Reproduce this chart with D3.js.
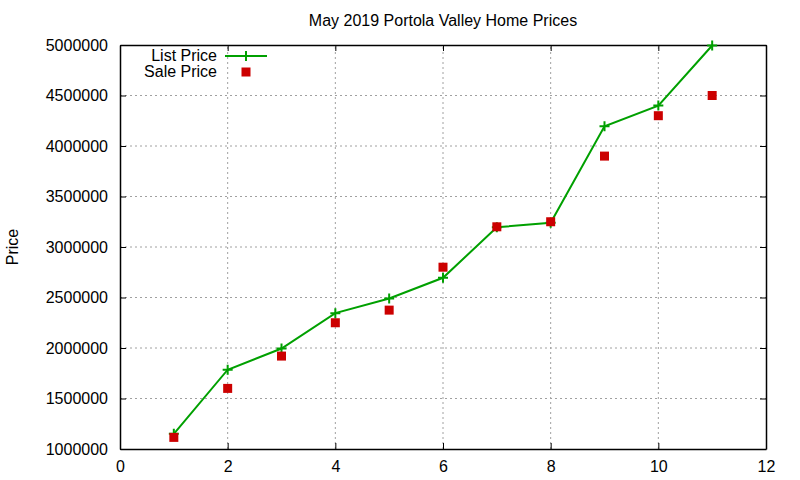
<!DOCTYPE html>
<html>
<head>
<meta charset="utf-8">
<script src="https://cdn.jsdelivr.net/npm/d3@7"></script>
<style>
  body { margin: 0; background: #fff; }
  text { font-family: "Liberation Sans", Arial, sans-serif; fill: #000; }
</style>
</head>
<body>
<div id="chart"></div>
<script>
const houses = [1, 2, 3, 4, 5, 6, 7, 8, 9, 10, 11];
const listPrice = [1150000, 1785000, 1995000, 2345000, 2490000, 2695000, 3195000, 3240000, 4195000, 4400000, 4995000];
const salePrice = [1115000, 1600000, 1920000, 2250000, 2375000, 2800000, 3200000, 3250000, 3900000, 4300000, 4500000];
const xTicks = [0, 2, 4, 6, 8, 10, 12];
const yTicks = [1000000, 1500000, 2000000, 2500000, 3000000, 3500000, 4000000, 4500000, 5000000];

const width = 800;
const height = 480;
const margin = { top: 45, right: 34, bottom: 31, left: 120 };
const fontSize = '16px';

const svg = d3.select('#chart')
    .append('svg')
    .attr('width', width)
    .attr('height', height);

const x = d3.scaleLinear()
    .domain([0, 12])
    .range([margin.left, width - margin.right]);

const y = d3.scaleLinear()
    .domain([1000000, 5000000])
    .range([height - margin.bottom, margin.top]);

// grid
svg.append('g')
    .selectAll('line')
    .data(xTicks.slice(1, -1))
    .join('line')
    .attr('x1', d => x(d)).attr('x2', d => x(d))
    .attr('y1', y.range()[0]).attr('y2', y.range()[1])
    .attr('stroke', '#a0a0a0').attr('stroke-dasharray', '2,3');

svg.append('g')
    .selectAll('line')
    .data(yTicks.slice(1, -1))
    .join('line')
    .attr('x1', x.range()[0]).attr('x2', x.range()[1])
    .attr('y1', d => y(d)).attr('y2', d => y(d))
    .attr('stroke', '#a0a0a0').attr('stroke-dasharray', '2,3');

// axes, ticks pointing inward, mirrored
const fmt = d3.format('d');
svg.append('g')
    .attr('transform', `translate(0, ${y.range()[0]})`)
    .call(d3.axisBottom(x).tickValues(xTicks).tickFormat(fmt).tickSizeInner(-6).tickSizeOuter(0).tickPadding(12));
svg.append('g')
    .attr('transform', `translate(0, ${y.range()[1]})`)
    .call(d3.axisTop(x).tickValues(xTicks).tickFormat('').tickSizeInner(-6).tickSizeOuter(0));
svg.append('g')
    .attr('transform', `translate(${x.range()[0]}, 0)`)
    .call(d3.axisLeft(y).tickValues(yTicks).tickFormat(fmt).tickSizeInner(-6).tickSizeOuter(0).tickPadding(12));
svg.append('g')
    .attr('transform', `translate(${x.range()[1]}, 0)`)
    .call(d3.axisRight(y).tickValues(yTicks).tickFormat('').tickSizeInner(-6).tickSizeOuter(0));

svg.selectAll('.domain').attr('stroke', '#000').attr('stroke-width', 1.5);
svg.selectAll('.tick line').attr('stroke', '#000');
svg.selectAll('.tick text').style('font-size', fontSize).attr('fill', '#000');

// list price line
const line = d3.line()
    .x((d, i) => x(houses[i]))
    .y(d => y(d));

svg.append('path')
    .datum(listPrice)
    .attr('d', line)
    .attr('fill', 'none')
    .attr('stroke', '#00a000')
    .attr('stroke-width', 2);

const plusPath = s => `M${-s},0H${s}M0,${-s}V${s}`;

svg.append('g')
    .selectAll('path')
    .data(listPrice)
    .join('path')
    .attr('transform', (d, i) => `translate(${x(houses[i])},${y(d)})`)
    .attr('d', plusPath(5))
    .attr('stroke', '#00a000')
    .attr('stroke-width', 2);

// sale price points
svg.append('g')
    .selectAll('rect')
    .data(salePrice)
    .join('rect')
    .attr('x', (d, i) => x(houses[i]) - 4.5)
    .attr('y', d => y(d) - 4.5)
    .attr('width', 9)
    .attr('height', 9)
    .attr('fill', '#cc0000');

// title and y label
svg.append('text')
    .attr('x', (x.range()[0] + x.range()[1]) / 2)
    .attr('y', 26)
    .attr('text-anchor', 'middle')
    .style('font-size', fontSize)
    .text('May 2019 Portola Valley Home Prices');

svg.append('text')
    .attr('transform', `translate(18, ${(y.range()[0] + y.range()[1]) / 2}) rotate(-90)`)
    .attr('text-anchor', 'middle')
    .style('font-size', fontSize)
    .text('Price');

// legend
const legend = svg.append('g');
legend.append('text')
    .attr('x', 217).attr('y', 61)
    .attr('text-anchor', 'end')
    .style('font-size', fontSize)
    .text('List Price');
legend.append('line')
    .attr('x1', 225).attr('x2', 267)
    .attr('y1', 56).attr('y2', 56)
    .attr('stroke', '#00a000').attr('stroke-width', 2);
legend.append('path')
    .attr('transform', 'translate(246,56)')
    .attr('d', plusPath(5))
    .attr('stroke', '#00a000').attr('stroke-width', 2);
legend.append('text')
    .attr('x', 217).attr('y', 77)
    .attr('text-anchor', 'end')
    .style('font-size', fontSize)
    .text('Sale Price');
legend.append('rect')
    .attr('x', 246 - 4.5).attr('y', 72 - 4.5)
    .attr('width', 9).attr('height', 9)
    .attr('fill', '#cc0000');
</script>
</body>
</html>
